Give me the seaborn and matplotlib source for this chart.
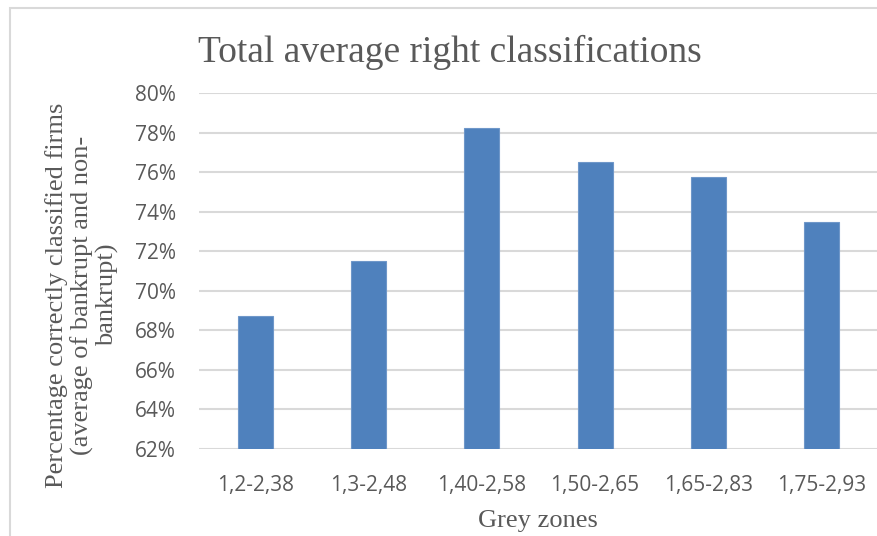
import matplotlib
matplotlib.use("Agg")
import matplotlib.pyplot as plt
import seaborn as sns
import pandas as pd
from matplotlib.ticker import FuncFormatter, MultipleLocator
from matplotlib.patches import Rectangle

categories = ["1,2-2,38", "1,3-2,48", "1,40-2,58", "1,50-2,65", "1,65-2,83", "1,75-2,93"]
values = [68.74, 71.50, 78.23, 76.52, 75.74, 73.46]
title = "Total average right classifications"
ylabel = "Percentage correctly classified firms\n(average of bankrupt and non-\nbankrupt)"
xlabel = "Grey zones"

df = pd.DataFrame({"zone": categories, "pct": values})

W, H = 877, 536
sns.set_theme(style="white")
fig = plt.figure(figsize=(W / 100, H / 100), dpi=100)
ax = fig.add_axes([199 / W, 1 - 449 / H, 679 / W, 356 / H])

sns.barplot(data=df, x="zone", y="pct", ax=ax, color="#4f81bd", width=0.31,
            saturation=1, edgecolor="#6f97c9", linewidth=0.8, zorder=3)

ax.set_ylim(62, 80)
ax.yaxis.set_major_locator(MultipleLocator(2))
ax.yaxis.set_major_formatter(FuncFormatter(lambda v, p: f"{v:.0f}%"))
ax.grid(axis="y", color="#d9d9d9", linewidth=1.5, zorder=0)
ax.set_axisbelow(True)
for s in ax.spines.values():
    s.set_visible(False)
ax.tick_params(axis="both", length=0, labelcolor="#595959", labelsize=15)
ax.tick_params(axis="y", pad=16.5)
ax.tick_params(axis="x", pad=19)
for lab in ax.get_xticklabels() + ax.get_yticklabels():
    lab.set_fontfamily("Open Sans")

ax.set_xlabel("")
ax.set_ylabel("")
fig.text(538 / W, 1 - 521 / H, xlabel, fontfamily="Liberation Serif", fontsize=19,
         color="#595959", ha="center", va="center")
fig.text(82 / W, 1 - 295 / H, ylabel, fontfamily="Liberation Serif", fontsize=19,
         color="#595959", ha="center", va="center", rotation=90,
         multialignment="center", linespacing=1.1)

fig.text(198 / W, 1 - 52 / H, title, fontfamily="Liberation Serif", fontsize=27,
         color="#595959", ha="left", va="center")

fig.patches.append(Rectangle((10 / W, -0.1), 1.2, 1.1 - 8 / H, transform=fig.transFigure,
                             fill=False, edgecolor="#d9d9d9", linewidth=1.5, zorder=-1))

fig.savefig("out.png", dpi=100)
